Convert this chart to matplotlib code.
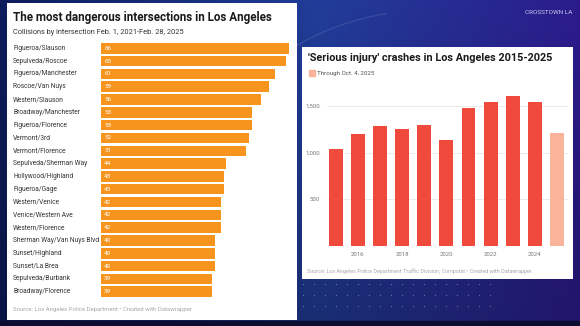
import numpy as np
import matplotlib.pyplot as plt
from matplotlib.patches import Rectangle, Arc
from matplotlib.transforms import blended_transform_factory

plt.rcParams['font.family'] = ['Roboto', 'DejaVu Sans']

W, H = 580, 326

# Left chart: collisions by intersection
intersections = ['Figueroa/Slauson', 'Sepulveda/Roscoe', 'Figueroa/Manchester', 'Roscoe/Van Nuys',
                 'Western/Slauson', 'Broadway/Manchester', 'Figueroa/Florence', 'Vermont/3rd',
                 'Vermont/Florence', 'Sepulveda/Sherman Way', 'Hollywood/Highland', 'Figueroa/Gage',
                 'Western/Venice', 'Venice/Western Ave', 'Western/Florence', 'Sherman Way/Van Nuys Blvd',
                 'Sunset/Highland', 'Sunset/La Brea', 'Sepulveda/Burbank', 'Broadway/Florence']
collisions = [66, 65, 61, 59, 56, 53, 53, 52, 51, 44, 43, 43, 42, 42, 42, 40, 40, 40, 39, 39]

# Right chart: serious injury crashes per year
years = [2015, 2016, 2017, 2018, 2019, 2020, 2021, 2022, 2023, 2024, 2025]
crashes = [1040, 1197, 1283, 1255, 1298, 1140, 1480, 1538, 1602, 1541, 1212]
year_ticks = [2016, 2018, 2020, 2022, 2024]
y_ticks = [500, 1000, 1500]


def box(x0, y0, x1, y1):
    # pixel box (top-left origin) -> figure fraction rect
    return [x0 / W, 1 - y1 / H, (x1 - x0) / W, (y1 - y0) / H]


def fx(x):
    return x / W


def fy(y):
    return 1 - y / H


fig = plt.figure(figsize=(W / 100, H / 100), dpi=100)

# background gradient
bg = fig.add_axes([0, 0, 1, 1])
xx, yy = np.meshgrid(np.linspace(0, 1, 300), np.linspace(0, 1, 170))
c_left = np.array([0.05, 0.11, 0.36])
c_mid = np.array([0.13, 0.24, 0.60])
c_right = np.array([0.17, 0.11, 0.55])
t = xx[..., None]
img = np.where(t < 0.55,
               c_left + (c_mid - c_left) * (t / 0.55),
               c_mid + (c_right - c_mid) * ((t - 0.55) / 0.45))
img = img * (1 - 0.25 * yy[..., None])
bg.imshow(img, extent=[0, W, H, 0], aspect='auto')
bg.add_patch(Rectangle((0, 321), W, 5, color='#0a0d30'))
bg.add_patch(Arc((430, 260), 520, 500, theta1=195, theta2=260, color='white', alpha=0.12, lw=0.8))
bg.add_patch(Arc((560, 120), 260, 300, theta1=110, theta2=175, color='white', alpha=0.10, lw=0.8))
dx, dy = np.meshgrid(np.arange(303, 500, 11), [284, 295, 306])
bg.scatter(dx.ravel(), dy.ravel(), s=0.8, color='white', alpha=0.35, lw=0)
bg.set_xlim(0, W)
bg.set_ylim(H, 0)
bg.axis('off')

# white panels
for rect in (box(7, 3, 297, 320), box(302, 47, 573, 279)):
    p = fig.add_axes(rect)
    p.set_facecolor('white')
    p.set_xticks([])
    p.set_yticks([])
    for s in p.spines.values():
        s.set_visible(False)

fig.text(fx(572), fy(12), 'CROSSTOWN LA', ha='right', va='center', fontsize=4.6, color='#c9c6f2')

# left chart
fig.text(fx(13), fy(17), 'The most dangerous intersections in Los Angeles', fontsize=8.4,
         fontweight='bold', color='#1a1a1a', va='center')
fig.text(fx(13), fy(33), 'Collisions by intersection Feb. 1, 2021-Feb. 28, 2025', fontsize=5.3,
         color='#333333', va='center')

ax = fig.add_axes(box(100.7, 41.9, 289.3, 298.1))
ypos = np.arange(len(intersections))
ax.barh(ypos, collisions, height=0.82, color='#f7941d')
ax.set_xlim(0, max(collisions))
ax.set_ylim(len(intersections) - 0.5, -0.5)
ax.axis('off')
label_tr = blended_transform_factory(fig.transFigure, ax.transData)
for i, (name, v) in enumerate(zip(intersections, collisions)):
    ax.text(1.2, i, str(v), color='white', fontsize=4.6, va='center', ha='left')
    ax.text(fx(13), i, name, fontsize=4.8, color='#333333', va='center', ha='left',
            transform=label_tr, clip_on=False)

fig.text(fx(13), fy(310), 'Source: Los Angeles Police Department • Created with Datawrapper',
         fontsize=4.3, color='#a8a8a8', va='center')

# right chart
fig.text(fx(308), fy(58), "'Serious injury' crashes in Los Angeles 2015-2025", fontsize=7.8,
         fontweight='bold', color='#1a1a1a', va='center')
fig.add_artist(Rectangle((fx(309), fy(76)), 6 / W, 6 / H, transform=fig.transFigure,
                         color='#f9b49a'))
fig.text(fx(317), fy(73), 'Through Oct. 4, 2025', fontsize=4.5, color='#555555', va='center')

y_top = 90
ymax = (246 - y_top) / 140 * 1500
ax2 = fig.add_axes(box(327, y_top, 568, 246))
colors = ['#ef4a3c'] * (len(years) - 1) + ['#f9b49a']
ax2.bar(years, crashes, width=0.63, color=colors, zorder=2)
ax2.set_xlim(2015 - 8.7 / 22.13, 2025 + 11 / 22.13)
ax2.set_ylim(0, ymax)
for v in y_ticks:
    ax2.axhline(v, color='#e8e8e8', lw=0.6, zorder=1)
ax2.axhline(0, color='#555555', lw=0.7, zorder=3)
ax2.set_yticks(y_ticks)
ax2.set_yticklabels([f'{v:,}' for v in y_ticks])
ax2.set_xticks(year_ticks)
ax2.set_xticklabels([str(y) for y in year_ticks])
ax2.tick_params(length=0, labelsize=4.3, labelcolor='#777777', pad=4)
ax2.tick_params(axis='y', pad=5)
ax2.set_facecolor('none')
for s in ax2.spines.values():
    s.set_visible(False)

fig.text(fx(307), fy(271),
         'Source: Los Angeles Police Department Traffic Division; Compstat • Created with Datawrapper',
         fontsize=3.9, color='#a8a8a8', va='center')

fig.savefig('out.png', dpi=100)
